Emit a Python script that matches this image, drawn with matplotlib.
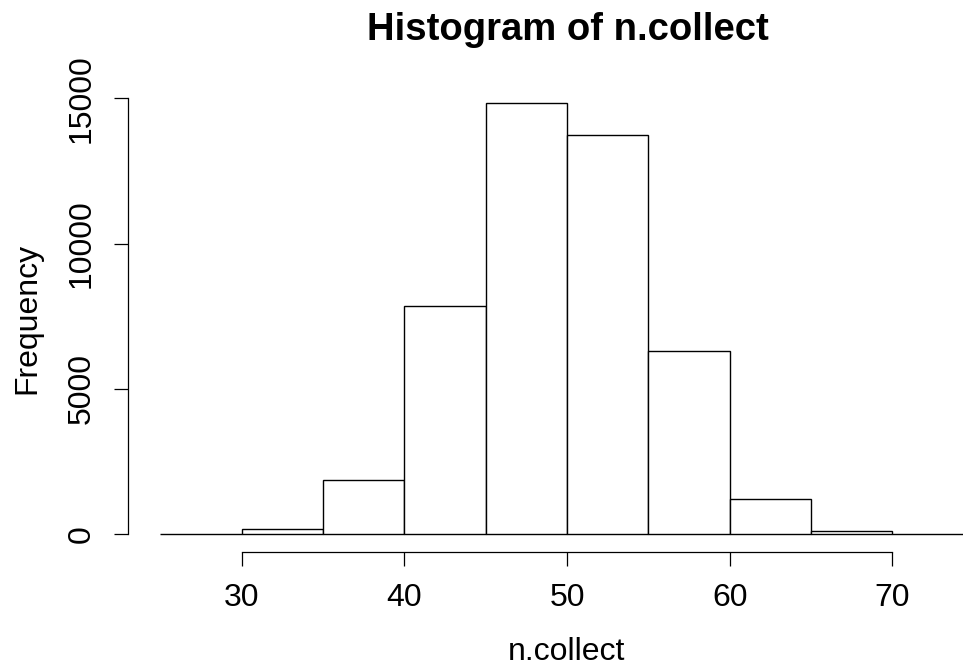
import matplotlib
matplotlib.use("Agg")
import matplotlib.pyplot as plt
import numpy as np

plt.rcParams['font.family'] = ['Liberation Sans', 'DejaVu Sans']

# Data
bin_edges = [25, 30, 35, 40, 45, 50, 55, 60, 65, 70, 75]
counts = [15, 180, 1880, 7870, 14830, 13740, 6300, 1230, 105, 10]
x_ticks = [30, 40, 50, 60, 70]
y_ticks = [0, 5000, 10000, 15000]

W, H = 963, 666
fig = plt.figure(figsize=(W / 100, H / 100), dpi=100)

left_px, right_px = 127.9, 1006.2
bottom_px, top_px = 551.5, 86.0
ax = fig.add_axes([left_px / W, (H - bottom_px) / H,
                   (right_px - left_px) / W, (bottom_px - top_px) / H])

edges = np.array(bin_edges, dtype=float)
vals = np.array(counts, dtype=float)
ax.bar(edges[:-1], vals, width=np.diff(edges), align='edge',
       facecolor='white', edgecolor='black', linewidth=1.0)

xr = edges[-1] - edges[0]
ax.set_xlim(edges[0] - 0.04 * xr, edges[-1] + 0.04 * xr)
ymax = vals.max()
ax.set_ylim(-0.04 * ymax, 1.04 * ymax)

for s in ['top', 'right']:
    ax.spines[s].set_visible(False)
ax.spines['left'].set_bounds(y_ticks[0], y_ticks[-1])
ax.spines['bottom'].set_bounds(x_ticks[0], x_ticks[-1])
for s in ['left', 'bottom']:
    ax.spines[s].set_linewidth(0.9)

ax.set_xticks(x_ticks)
ax.set_yticks(y_ticks)
ax.set_xticklabels([str(t) for t in x_ticks])
ax.set_yticklabels([str(t) for t in y_ticks], rotation=90, va='center')
ax.tick_params(axis='both', direction='out', length=10.4, width=0.9,
               labelsize=23)
ax.tick_params(axis='x', pad=12)
ax.tick_params(axis='y', pad=12)

fig.text(568 / W, 1 - 30 / H, 'Histogram of n.collect', ha='center',
         va='center', fontsize=27.5, fontweight='bold')
fig.text(567 / W, 1 - 652 / H, 'n.collect', ha='center', va='center',
         fontsize=23)
fig.text(27 / W, 1 - 318 / H, 'Frequency', ha='center', va='center',
         fontsize=23, rotation=90)

fig.savefig('out.png', dpi=100, facecolor='white')
